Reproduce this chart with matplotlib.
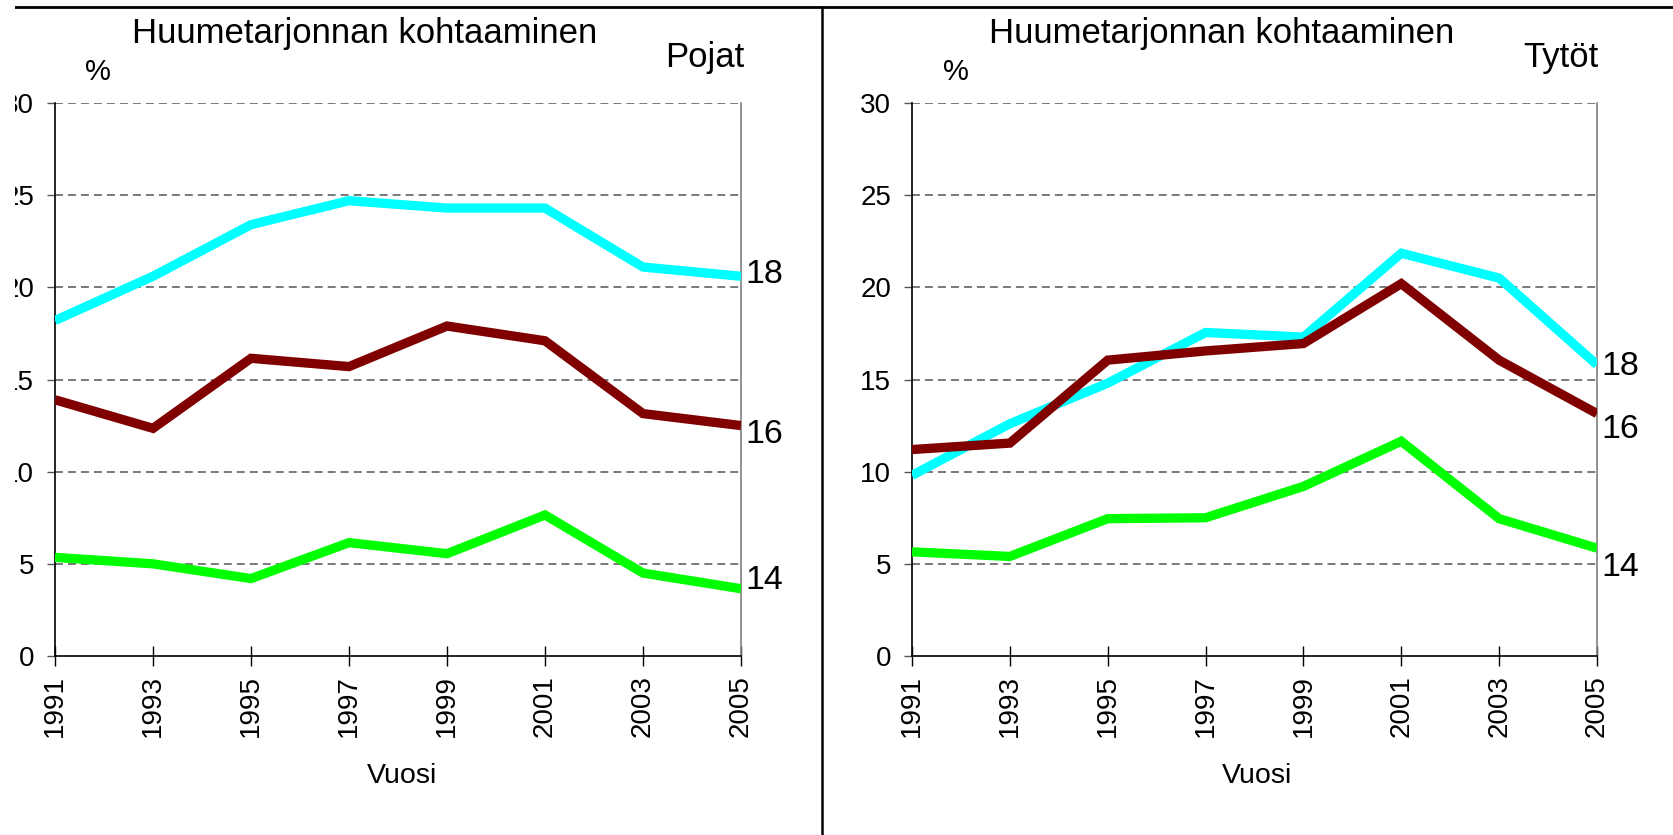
import matplotlib
matplotlib.use("Agg")
import matplotlib.pyplot as plt
from matplotlib.lines import Line2D
from matplotlib.patches import Rectangle

plt.rcParams['font.family'] = ['Liberation Sans', 'DejaVu Sans']

# ---- data ----
years = [1991, 1993, 1995, 1997, 1999, 2001, 2003, 2005]
year_labels = [str(y) for y in years]
yticks = [0, 5, 10, 15, 20, 25, 30]

# Pojat (boys)
boys_18 = [18.2, 20.6, 23.4, 24.7, 24.3, 24.3, 21.1, 20.6]
boys_16 = [13.9, 12.35, 16.15, 15.7, 17.9, 17.1, 13.15, 12.5]
boys_14 = [5.35, 5.0, 4.2, 6.15, 5.55, 7.65, 4.5, 3.65]

# Tytöt (girls)
girls_18 = [9.8, 12.6, 14.8, 17.55, 17.3, 21.85, 20.5, 15.8]
girls_16 = [11.2, 11.55, 16.05, 16.55, 16.95, 20.2, 16.05, 13.15]
girls_14 = [5.65, 5.4, 7.45, 7.5, 9.2, 11.65, 7.45, 5.85]

age_labels = ['18', '16', '14']
colors = ['#00FFFF', '#800000', '#00FF00']

title_text = 'Huumetarjonnan kohtaaminen'
panel_names = ['Pojat', 'Tytöt']
xlabel_text = 'Vuosi'
unit_text = '%'

# ---- layout ----
W, H = 1673, 835
fig = plt.figure(figsize=(W / 100, H / 100), dpi=100)

def fx(px):
    return px / W

def fy(py):
    return 1 - py / H

ax_top, ax_bot = 103, 656
panels = [
    dict(x0=55, x1=741, series=[boys_18, boys_16, boys_14],
         label_y=[20.7, 12.0, 4.1], title_x=365, name_x=744, pct_x=98, vuosi_x=402),
    dict(x0=912, x1=1597, series=[girls_18, girls_16, girls_14],
         label_y=[15.7, 12.3, 4.8], title_x=1222, name_x=1598, pct_x=956, vuosi_x=1257),
]

for i, p in enumerate(panels):
    ax = fig.add_axes([fx(p['x0']), fy(ax_bot), fx(p['x1'] - p['x0']), (ax_bot - ax_top) / H])
    ax.set_xlim(years[0], years[-1])
    ax.set_ylim(0, 30)
    for yv in yticks[1:]:
        ax.axhline(yv, color='#555555', lw=1.1, ls=(0, (5.2, 3.3)), zorder=1)
    for s, c in zip(p['series'], colors):
        ax.plot(years, s, color=c, lw=6.7, solid_capstyle='butt', solid_joinstyle='miter', zorder=3)
    for lab, ly in zip(age_labels, p['label_y']):
        ax.annotate(lab, xy=(years[-1], ly), xytext=(3, 0), textcoords='offset points',
                    ha='left', va='center', fontsize=24.5, annotation_clip=False)
    ax.set_xticks(years)
    ax.set_xticklabels(year_labels, rotation=90, fontsize=20)
    ax.set_yticks(yticks)
    ax.set_yticklabels([str(v) for v in yticks], fontsize=20)
    ax.tick_params(axis='x', direction='inout', length=15, width=1, pad=6, color='black')
    ax.tick_params(axis='y', direction='out', length=6, width=1, pad=9, color='#555555')
    ax.spines['top'].set_visible(False)
    ax.spines['right'].set_color('#808080')
    ax.spines['left'].set_color('black')
    ax.spines['bottom'].set_color('black')
    for sp in ax.spines.values():
        sp.set_linewidth(1.2)
    ax.set_facecolor('none')

    fig.text(fx(p['title_x']), fy(43), title_text, ha='center', va='baseline', fontsize=25)
    fig.text(fx(p['name_x']), fy(67), panel_names[i], ha='right', va='baseline', fontsize=25)
    fig.text(fx(p['pct_x']), fy(80), unit_text, ha='center', va='baseline', fontsize=21)
    fig.text(fx(p['vuosi_x']), fy(783), xlabel_text, ha='center', va='baseline', fontsize=20.5)

# frame lines
fig.add_artist(Line2D([fx(15), 1.0], [fy(7), fy(7)], color='black', lw=2.0))
fig.add_artist(Line2D([fx(821.7), fx(821.7)], [0, fy(7)], color='black', lw=1.8))
# cropped left margin
fig.add_artist(Rectangle((0, 0), fx(15), 1, transform=fig.transFigure,
                         facecolor='white', edgecolor='none', zorder=10))

fig.savefig('out.png', dpi=100, facecolor='white')
